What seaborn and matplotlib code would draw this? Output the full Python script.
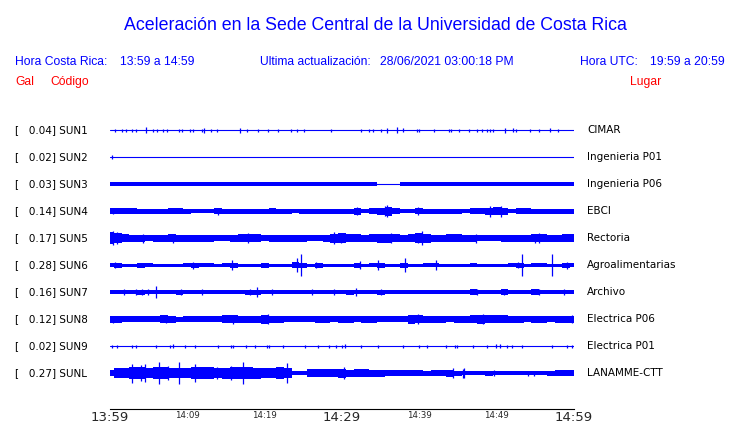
import numpy as np
import pandas as pd
import seaborn as sns
import matplotlib
matplotlib.use('Agg')
import matplotlib.pyplot as plt
from matplotlib.transforms import blended_transform_factory

codes = ['SUN1', 'SUN2', 'SUN3', 'SUN4', 'SUN5', 'SUN6', 'SUN7', 'SUN8', 'SUN9', 'SUNL']
peaks = [0.04, 0.02, 0.03, 0.14, 0.17, 0.28, 0.16, 0.12, 0.02, 0.27]
places = ['CIMAR', 'Ingenieria P01', 'Ingenieria P06', 'EBCI', 'Rectoria',
          'Agroalimentarias', 'Archivo', 'Electrica P06', 'Electrica P01', 'LANAMME-CTT']

minutes = np.arange(61)  # 13:59 .. 14:59
major_ticks = [0, 30, 60]
major_labels = ['13:59', '14:29', '14:59']
minor_ticks = [5, 10, 15, 20, 25, 35, 40, 45, 50, 55]
minor_labels = ['', '14:09', '', '14:19', '', '', '14:39', '', '14:49', '']

# band half-height per minute (pixels, row spacing = 27 px); None -> thin line only
env = {
    'SUN1': None,
    'SUN2': None,
    'SUN3': [1.7, 1.7, 1.7, 1.7, 1.7, 1.7, 1.7, 1.7, 1.7, 1.7, 1.7, 1.7, 1.7, 1.7, 1.7, 1.7,
             1.7, 1.7, 1.7, 1.7, 1.7, 1.7, 1.7, 1.7, 1.7, 1.7, 1.7, 1.7, 1.7, 1.7, 1.7, 1.7,
             1.7, 1.7, 1.7, 0.5, 0.5, 0.5, 1.7, 1.7, 1.7, 1.7, 1.7, 1.7, 1.7, 1.7, 1.7, 1.7,
             1.7, 1.7, 1.7, 1.7, 1.7, 1.7, 1.7, 1.7, 1.7, 1.7, 1.7, 1.7, 1.7],
    'SUN4': [3, 3, 3, 3, 2.5, 2.5, 2.5, 2.5, 3, 3, 2.5, 2, 2, 2, 3, 2.5, 2.5, 2.5, 2.5, 2.5,
             2.5, 3, 2.5, 2.5, 2, 2.5, 2.5, 2.5, 2.5, 2.5, 2.5, 2.5, 3.5, 2, 3, 3.5, 4.5, 3,
             2, 2, 3, 2.5, 2.5, 2.5, 2.5, 2.5, 2, 3, 3, 3.5, 4, 3.5, 2, 3, 3, 2.5, 2.5, 2.5,
             2.5, 2.5, 2.5],
    'SUN5': [6, 5, 4, 3.5, 3.5, 3, 3.5, 3.5, 4, 3.5, 3.5, 3.5, 3.5, 3.5, 3, 3, 3.5, 4, 4, 4,
             3, 3.5, 3.5, 3.5, 3.5, 3.5, 3, 3, 3.5, 4.5, 5, 4, 4, 3.5, 4, 4.5, 4.5, 4, 3.5, 4,
             5, 4.5, 3.5, 3.5, 4, 4, 3.5, 3.5, 3, 3, 3, 3.5, 3.5, 3.5, 3.5, 4, 4, 3.5, 3.5,
             4, 4],
    'SUN6': [2, 2.5, 1.5, 1.5, 2.5, 2, 1.5, 1.5, 1.5, 1.5, 2, 2.5, 2, 2, 1.5, 2, 2.5, 1.5,
             1.5, 1.5, 2.5, 1.5, 1.5, 1.5, 3, 2.5, 1.5, 2.5, 1.5, 1.5, 1.5, 1.5, 2.5, 1.5, 2,
             2.5, 1.5, 1.5, 2.5, 1.5, 1.5, 2, 2, 1.5, 1.5, 1.5, 1.5, 2, 1.5, 1.5, 1.5, 1.5, 2,
             2.5, 1.5, 2, 2, 1.5, 1.5, 2.5, 2],
    'SUN7': [1.8, 1.8, 1.8, 2.3, 2.5, 2.3, 2.3, 2.3, 1.8, 2.5, 1.8, 1.8, 1.8, 1.8, 1.8, 1.8,
             1.8, 1.8, 2.5, 2.5, 1.8, 2.3, 1.8, 1.8, 1.8, 1.8, 2.3, 1.8, 1.8, 2.3, 2.3, 2.5,
             1.8, 2, 1.8, 2.5, 2, 2, 1.8, 1.8, 1.8, 1.8, 1.8, 2.3, 1.8, 1.8, 1.8, 2.8, 1.8,
             1.8, 1.8, 2.8, 1.8, 2.3, 2, 2.8, 1.8, 1.8, 1.8, 2.3, 2.3],
    'SUN8': [3.5, 3.5, 3, 3, 3, 3, 3, 4, 3.5, 2.5, 3, 3, 3, 3, 3, 4, 4, 3.5, 3.5, 3.5, 4.5,
             3.5, 3.5, 3, 3, 3, 3, 3.5, 3.5, 3, 3.5, 3.5, 3, 3.5, 3.5, 3, 3, 3, 3, 4.5, 4,
             3.5, 3.5, 3.5, 3, 3.5, 3.5, 4, 4.5, 4, 4, 4, 3.5, 3.5, 3, 3.5, 3.5, 3, 3.5, 3.5,
             3.5],
    'SUN9': None,
    'SUNL': [3, 5, 5, 6, 6, 5, 6, 6, 5, 5, 5, 6, 6, 6, 5, 5.5, 6, 6, 6, 5.5, 5, 5, 6, 5,
             1.7, 2, 4, 4, 4, 4, 4.5, 3.5, 4, 4, 3.5, 3.5, 3, 3, 3, 3, 3, 2.5, 3, 3, 3.5,
             2.5, 1.7, 1.7, 1.7, 2.5, 1.7, 1.7, 1.7, 1.7, 1.7, 1.7, 1.7, 2.5, 3, 3, 3],
}

# isolated peaks: (minute, half-height in pixels)
spikes = {
    'SUN1': [(0.65, 1.5), (1.5, 1.5), (2.1, 1.5), (2.9, 1.5), (3.4, 1.5), (4.6, 3), (5.6, 1.5),
             (6.1, 1.5), (6.9, 1.5), (7.4, 1.5), (8.9, 1.5), (9.3, 1.5), (10.3, 1.5), (10.7, 1.5),
             (11.9, 1.5), (12.2, 2.5), (13.1, 1.5), (13.9, 1.5), (16.8, 2.5), (17.7, 1.5),
             (19.2, 1.5), (20.4, 1.5), (21.7, 1.5), (23.4, 1.5), (24.2, 1.5), (25.1, 1.5),
             (28.6, 1.5), (32.5, 1.5), (33.5, 1.5), (34.0, 1.5), (35.0, 1.5), (35.8, 2.5),
             (37.1, 3), (37.9, 2), (39.7, 1.5), (40.0, 1.5), (41.9, 1.5), (43.8, 1.5),
             (44.1, 1.5), (45.1, 1.5), (46.4, 1.5), (47.5, 1.5), (48.1, 1.5), (48.8, 1.5),
             (49.1, 1.5), (49.5, 1.5), (51.1, 2.5), (52.1, 2), (52.5, 1.5), (54.3, 1.5),
             (55.5, 1.5), (56.9, 2), (57.9, 1.5)],
    'SUN2': [(0.3, 2)],
    'SUN3': [],
    'SUN4': [(0.4, 3.3), (14, 3.5), (32, 4), (35.5, 5), (35.8, 6), (39.8, 3.7), (49.2, 5.5),
             (50.5, 5.5)],
    'SUN5': [(0.4, 7.3), (0.9, 6), (4.3, 4.5), (8.2, 4.5), (17.8, 5.3), (29, 5.8), (29.9, 5),
             (36.3, 5), (39.8, 5), (40.4, 7), (47.3, 4.5), (55, 4.5), (55.5, 5)],
    'SUN6': [(0.7, 3), (10.7, 3.5), (15.8, 5), (24.2, 7), (24.7, 11), (26.7, 3), (32.3, 4),
             (34.6, 4.7), (38.1, 6.7), (42.1, 4.7), (52.7, 3), (53.3, 11), (57.2, 11),
             (59.1, 3.5)],
    'SUN7': [(1.8, 3), (3.4, 3), (4.2, 3), (4.9, 3), (5.9, 6), (9.2, 3), (11.9, 3), (18.1, 3),
             (19.0, 4.7), (20.9, 3), (26.1, 3), (29.0, 3), (31.8, 4.3), (35.0, 3), (47.5, 3),
             (51.0, 3), (55.5, 3), (58.7, 3)],
    'SUN8': [(0.4, 3.5), (7.2, 4), (15.9, 4.5), (20.4, 5), (39.8, 5), (48.2, 5), (59.7, 4)],
    'SUN9': [(0.3, 1.5), (0.95, 1.5), (2.9, 1.5), (3.4, 1.5), (5.9, 1.5), (7.7, 1.5), (8.1, 2),
             (9.7, 1.5), (11.0, 1.5), (14.0, 1.5), (15.6, 1.5), (15.9, 1.5), (17.6, 1.5),
             (18.7, 1.5), (20.3, 1.5), (20.6, 1.5), (22.4, 1.5), (25.2, 1.5), (26.9, 1.5),
             (28.3, 1.5), (29.2, 1.5), (30.0, 1.5), (30.4, 2), (32.5, 1.5), (34.6, 1.5),
             (37.9, 1.5), (40.0, 1.5), (41.0, 1.5), (43.4, 1.5), (44.6, 1.5), (44.9, 1.5),
             (46.9, 1.5), (48.8, 1.5), (49.9, 2), (50.4, 2), (51.4, 1.5), (52.0, 1.5),
             (53.3, 1.5), (57.2, 1.5), (59.1, 1.5), (59.8, 1.5)],
    'SUNL': [(2.8, 9.5), (4.0, 8), (4.5, 8.7), (6.3, 11), (7.5, 7), (8.9, 11), (11.0, 9),
             (13.8, 6), (15.7, 7), (17.2, 11.3), (22.9, 9.7), (30.3, 6), (44.3, 5), (45.6, 4.5),
             (45.8, 5), (49.7, 3), (54.0, 2.5), (54.8, 2.5)],
}

W, H = 740, 423
ROW_PX = 27.0
BLUE = '#0000ff'
RED = '#ff0000'

sns.set_style('white')
plt.rcParams['font.family'] = ['DejaVu Sans']

fig = plt.figure(figsize=(W / 100, H / 100), dpi=100)
ax = fig.add_axes([110 / W, 14 / H, 464 / W, 306 / H])

# thin base line of every trace
base = pd.DataFrame([(m, i, c) for i, c in enumerate(codes) for m in (minutes[0], minutes[-1])],
                    columns=['minute', 'row', 'code'])
sns.lineplot(data=base, x='minute', y='row', hue='code', palette=[BLUE] * len(codes),
             legend=False, lw=0.8, ax=ax)

for i, c in enumerate(codes):
    if env[c] is not None:
        h = np.array(env[c]) / ROW_PX
        ax.fill_between(minutes, i - h, i + h, step='mid', color=BLUE, lw=0)
    if spikes[c]:
        t = [s[0] for s in spikes[c]]
        a = np.array([s[1] for s in spikes[c]]) / ROW_PX
        ax.vlines(t, i - a, i + a, color=BLUE, lw=0.9)

ax.set_xlim(0, 60)
ax.set_ylim(10.33, -1)
ax.set_xlabel('')
ax.set_ylabel('')
ax.set_yticks([])
for s in ['top', 'left', 'right']:
    ax.spines[s].set_visible(False)
ax.spines['bottom'].set_color('black')
ax.spines['bottom'].set_linewidth(0.8)
ax.set_xticks(major_ticks)
ax.set_xticklabels(major_labels)
ax.set_xticks(minor_ticks, minor=True)
ax.set_xticklabels(minor_labels, minor=True)
ax.tick_params(axis='x', which='both', direction='in', length=6.5, width=0.8,
               color='black', pad=1.5)
ax.tick_params(axis='x', which='major', labelsize=9.5)
ax.tick_params(axis='x', which='minor', labelsize=6.2)

# station labels
tr = blended_transform_factory(fig.transFigure, ax.transData)
for i, c in enumerate(codes):
    ax.text(15 / W, i, '[%7.2f] %s' % (peaks[i], c), transform=tr, va='center',
            ha='left', fontsize=7.5, color='black')
    ax.text(587 / W, i, places[i], transform=tr, va='center', ha='left',
            fontsize=7.5, color='black')

# header
hf = 'Liberation Sans'


def top_text(x, y, s, color, size, ha='left'):
    fig.text(x / W, 1 - y / H, s, color=color, fontsize=size, ha=ha, va='baseline',
             family=hf)


top_text(375, 30, 'Aceleración en la Sede Central de la Universidad de Costa Rica', BLUE, 12.8,
         ha='center')
top_text(15, 65, 'Hora Costa Rica:', BLUE, 8.7)
top_text(120, 65, '13:59 a 14:59', BLUE, 8.7)
top_text(260, 65, 'Ultima actualización:', BLUE, 8.7)
top_text(380, 65, '28/06/2021 03:00:18 PM', BLUE, 8.7)
top_text(580, 65, 'Hora UTC:', BLUE, 8.7)
top_text(650, 65, '19:59 a 20:59', BLUE, 8.7)
top_text(15, 85, 'Gal', RED, 8.7)
top_text(50, 85, 'Código', RED, 8.7)
top_text(630, 85, 'Lugar', RED, 8.7)

fig.savefig('out.png', dpi=100)
